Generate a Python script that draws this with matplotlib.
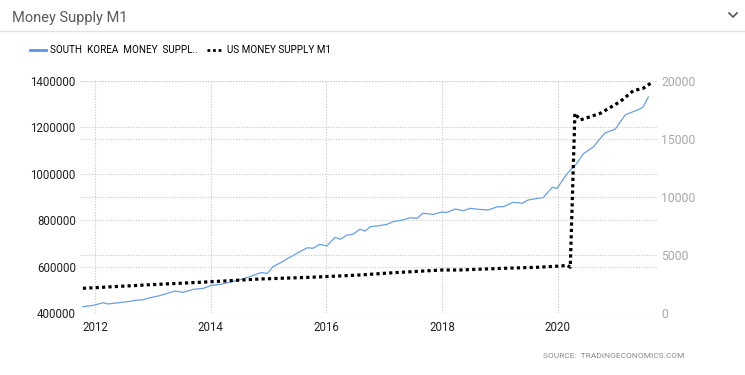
import matplotlib
matplotlib.use("Agg")
import matplotlib.pyplot as plt
from matplotlib.lines import Line2D

plt.rcParams['font.family'] = ['Roboto', 'DejaVu Sans']

# South Korea money supply M1 (KRW billion), decimal years
kr_t = [2011.79, 2011.97, 2012.14, 2012.22, 2012.40, 2012.57, 2012.71, 2012.83, 2012.95,
        2013.09, 2013.23, 2013.38, 2013.52, 2013.70, 2013.87, 2014.01, 2014.18, 2014.35,
        2014.53, 2014.70, 2014.87, 2014.98, 2015.08, 2015.24, 2015.34, 2015.49, 2015.67,
        2015.77, 2015.89, 2016.01, 2016.15, 2016.24, 2016.36, 2016.46, 2016.58, 2016.67,
        2016.76, 2016.90, 2017.05, 2017.16, 2017.33, 2017.45, 2017.57, 2017.67, 2017.85,
        2018.00, 2018.09, 2018.23, 2018.37, 2018.49, 2018.63, 2018.80, 2018.96, 2019.06,
        2019.23, 2019.39, 2019.49, 2019.65, 2019.75, 2019.91, 2019.99, 2020.17, 2020.34,
        2020.44, 2020.62, 2020.70, 2020.82, 2021.00, 2021.17, 2021.43, 2021.48, 2021.57]
kr_v = [427000, 433000, 444000, 439000, 444000, 449000, 455000, 457000, 466000,
        473000, 483000, 495000, 489000, 502000, 506000, 519000, 524000, 534000,
        545000, 559000, 574000, 571000, 600000, 621000, 636000, 657000, 681000,
        679000, 696000, 689000, 726000, 718000, 736000, 739000, 761000, 753000,
        772000, 776000, 782000, 794000, 801000, 811000, 808000, 830000, 825000,
        835000, 834000, 848000, 841000, 851000, 847000, 844000, 858000, 858000,
        877000, 873000, 887000, 894000, 897000, 942000, 937000, 1002000, 1047000,
        1085000, 1116000, 1141000, 1176000, 1193000, 1254000, 1280000, 1288000, 1331000]

# US money supply M1 (USD billion)
us_t = [2011.79, 2012.87, 2014.01, 2014.85, 2015.72, 2016.58, 2017.16, 2018.00, 2018.31,
        2019.06, 2019.65, 2020.05, 2020.17, 2020.22, 2020.30, 2020.39, 2020.74, 2021.08,
        2021.31, 2021.48, 2021.65]
us_v = [2130, 2414, 2698, 2931, 3077, 3276, 3474, 3707, 3707,
        3853, 3940, 4052, 4112, 3940, 17214, 16637, 17214, 18214,
        19162, 19369, 19938]

year_ticks = [2012, 2014, 2016, 2018, 2020]
left_ticks = [400000, 600000, 800000, 1000000, 1200000, 1400000]
right_ticks = [0, 5000, 10000, 15000, 20000]

fig = plt.figure(figsize=(7.45, 3.75), dpi=100)
ax = fig.add_axes([80 / 745, 1 - 313 / 375, 577 / 745, 232 / 375])
ax2 = ax.twinx()

grid_kw = dict(color='#c8c8c8', linestyle=(0, (1, 1.5)), linewidth=0.8)

ax.plot(kr_t, kr_v, color='#6a9fe0', linewidth=0.9, zorder=3)
ax2.plot(us_t, us_v, color='black', linewidth=2.3, linestyle=(0, (1, 1)), zorder=3)

ax.set_xlim(2011.74, 2021.72)
ax.set_ylim(400000, 1400000)
ax2.set_ylim(0, 20000)
ax.set_xticks(year_ticks)
ax.set_xticklabels([str(y) for y in year_ticks])
ax.set_yticks(left_ticks)
ax.set_yticklabels([str(v) for v in left_ticks])
ax2.set_yticks(right_ticks)
ax2.set_yticklabels([str(v) for v in right_ticks])

ax.grid(True, axis='both', **grid_kw)
ax2.grid(True, axis='y', **grid_kw)
ax.set_axisbelow(True)
ax2.set_axisbelow(True)

for a in (ax, ax2):
    for s in a.spines.values():
        s.set_visible(False)
ax.tick_params(axis='both', length=0, labelsize=8.3, colors='#222222')
ax.tick_params(axis='x', pad=6)
ax.tick_params(axis='y', pad=3)
ax2.tick_params(axis='y', length=0, labelsize=8.8, colors='#a8a8a8', pad=3)

# header
fig.text(12 / 745, 1 - 18 / 375, 'Money Supply M1', fontsize=10.5, color='#5a5a5a', va='center')
fig.add_artist(Line2D([0, 1], [1 - 31 / 375] * 2, color='#e2e2e2', linewidth=1))
fig.add_artist(Line2D([729 / 745, 733 / 745, 737 / 745],
                      [1 - 13 / 375, 1 - 17 / 375, 1 - 13 / 375], color='#555555', linewidth=1.2))

handles = [Line2D([], [], color='#5b95dc', linewidth=2),
           Line2D([], [], color='black', linewidth=2, linestyle=(0, (1, 1)))]
fig.legend(handles, ['SOUTH  KOREA  MONEY  SUPPL..', 'US MONEY SUPPLY M1'],
           loc='center left', bbox_to_anchor=(26 / 745, 1 - 50 / 375), ncol=2,
           frameon=False, fontsize=7.1, handlelength=1.6, handletextpad=0.4,
           columnspacing=1.0, borderaxespad=0)

fig.text(684 / 745, 1 - 356 / 375, 'SOURCE:  TRADINGECONOMICS.COM', fontsize=6,
         color='#8a8a8a', ha='right', va='center')

fig.savefig('out.png', dpi=100)
